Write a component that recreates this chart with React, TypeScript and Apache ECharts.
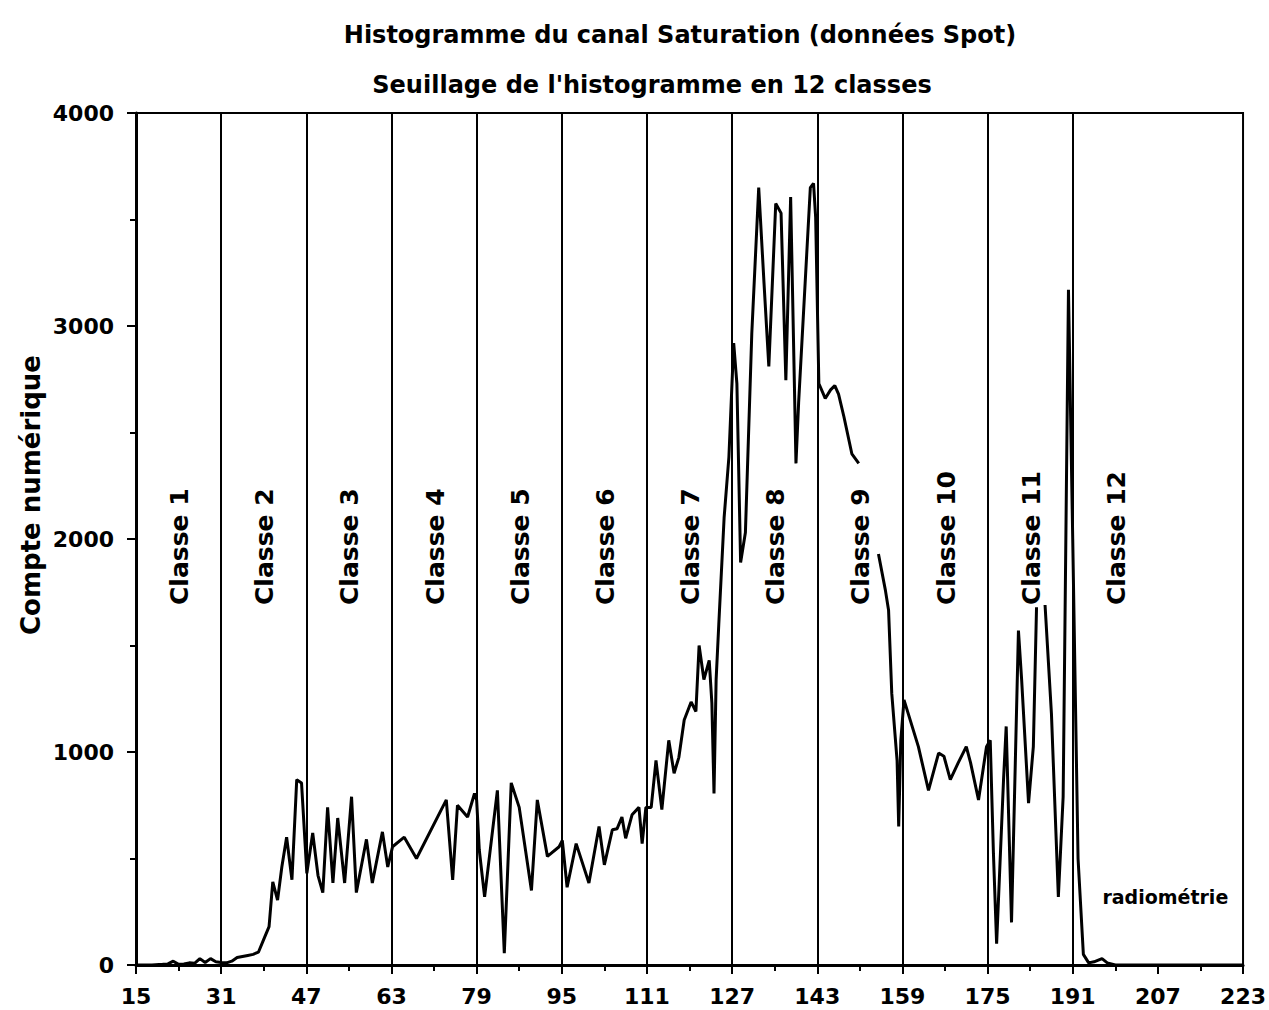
import React, { useEffect, useRef } from "react";
import * as echarts from "echarts";

const titleText = "Histogramme du canal Saturation (données Spot)";
const subtitleText = "Seuillage de l'histogramme en 12 classes";
const yAxisName = "Compte numérique";
const xAxisNote = "radiométrie";

// radiometric level (x) and count (y); null = pen gap
const radiometrie = [
  15, 18, 20, 21, 22, 23, 24, 25, 26, 27, 28, 29, 30, 31, 32, 33, 34, 35, 36, 37, 38, 39, 40,
  40.7, 41.6, 42.4, 43.3, 44.3, 45.2, 46.1, 47.1, 48.2, 49.2, 50.1, 51, 52, 52.9, 54.2, 55.5,
  56.4, 58.3, 59.4, 61.3, 62.3, 63.2, 65.4, 67.7, 73.3, 74.5, 75.4, 77.3, 78.6, 79, 79.5, 80.5,
  82.9, 84.2, 85.5, 87, 89.3, 90.4, 92.3, 94.5, 95.1, 96, 97.7, 100.1, 102, 103, 104.5, 105.4,
  106.3, 107, 108.2, 109.5, 110.1, 110.8, 111.8, 112.7, 113.8, 115.1, 116.1, 117, 118, 119.3,
  120.2, 120.8, 121.7, 122.7, 123.2, 123.6, 124, 124.5, 125.5, 126.4, 127.3, 127.9, 128.6,
  129.5, 130.7, 132, 133, 133.9, 135.2, 136.2, 137.1, 138, 139, 139.5, 141.7, 142.3, 142.7,
  143.3, 144.5, 145.5, 146.3, 147, 148, 149.5, 150.8, 152.5, 154.5, 155.8, 156.4, 157, 158, 158.3,
  158.7, 159.3, 162, 163.9, 165.8, 166.8, 168, 169.5, 171, 171.8, 173.3, 174.8, 175.5, 176.1,
  176.7, 178, 178.5, 179.5, 180.8, 181.4, 182.7, 183.6, 184.2, 185, 185.8, 187, 188.3, 189.2,
  190.2, 191, 192, 193, 194, 195, 196.5, 197.5, 199, 223,
];
const compte = [
  0, 0, 3, 5, 18, 3, 5, 10, 8, 30, 12, 30, 15, 12, 10, 18, 35, 40, 45, 50, 60, 120, 180,
  390, 305, 460, 600, 400, 870, 855, 430, 620, 420, 340, 740, 385, 690, 385, 790,
  340, 590, 385, 625, 460, 555, 600, 500, 775, 400, 750, 695, 805, 775, 540, 320,
  820, 55, 855, 740, 350, 775, 510, 555, 585, 365, 570, 385, 650, 470, 635, 640,
  695, 595, 705, 740, 570, 740, 740, 960, 730, 1055, 900, 975, 1150, 1235,
  1190, 1500, 1340, 1430, 1230, 805, 1340, 1600, 2100, 2385, 2920, 2730, 1890,
  2030, 2965, 3650, 3200, 2810, 3575, 3530, 2745, 3605, 2355, 2640, 3650, 3670, 3510,
  2730, 2660, 2700, 2720, 2680, 2575, 2400, 2355, null, 1930, 1760, 1665, 1275, 960, 650,
  1055, 1245, 1025, 820, 995, 980, 870, 950, 1025, 950, 775, 1025, 1055, 525,
  100, 870, 1120, 200, 1570, 1340, 760, 1025, 1680, null, 1690, 1180, 320, 790,
  3170, 2000, 500, 50, 10, 15, 30, 10, 0, 0,
];

const classBounds = [31, 47, 63, 79, 95, 111, 127, 143, 159, 175, 191];
const classNames = [
  "Classe 1", "Classe 2", "Classe 3", "Classe 4", "Classe 5", "Classe 6",
  "Classe 7", "Classe 8", "Classe 9", "Classe 10", "Classe 11", "Classe 12",
];
const classCenters = [23.2, 39.2, 55.2, 71.2, 87.2, 103.2, 119.2, 135.2, 151.2, 167.2, 183.2, 199.2];
const classLabelBase = 1690;
const notePosition = [208.4, 320];

const xTicks = { min: 15, max: 223, interval: 16 };
const yTicks = { min: 0, max: 4000, interval: 1000 };

const FONT = "'DejaVu Sans', sans-serif";

export default function App() {
  const ref = useRef<HTMLDivElement>(null);
  useEffect(() => {
    if (!ref.current) return;
    const chart = echarts.init(ref.current, null, { renderer: "svg" });
    const lineData = radiometrie.map((x, i) => [x, compte[i] === null ? "-" : compte[i]]);
    const textLabel = (size: number, rotate: number, align: string) => ({
      show: true,
      formatter: (p: any) => p.name,
      position: "inside",
      rotate,
      align,
      verticalAlign: "middle",
      color: "#000",
      opacity: 1,
      textBorderWidth: 0,
      fontFamily: FONT,
      fontWeight: "bold",
      fontSize: size,
    });
    chart.setOption({
      animation: false,
      backgroundColor: "#fff",
      title: [
        {
          text: titleText,
          left: 675,
          top: 18,
          textAlign: "center",
          textStyle: { fontFamily: FONT, fontWeight: "bold", fontSize: 24, color: "#000" },
        },
        {
          text: subtitleText,
          left: 647,
          top: 68,
          textAlign: "center",
          textStyle: { fontFamily: FONT, fontWeight: "bold", fontSize: 24, color: "#000" },
        },
      ],
      graphic: [
        {
          type: "text",
          x: 31,
          y: 495,
          rotation: Math.PI / 2,
          style: {
            text: yAxisName,
            fill: "#000",
            font: "bold 26px 'DejaVu Sans', sans-serif",
            align: "center",
            verticalAlign: "middle",
          },
        },
      ],
      grid: {
        left: 136,
        right: 24,
        top: 113,
        bottom: 45,
        show: true,
        borderColor: "#000",
        borderWidth: 2,
        backgroundColor: "transparent",
      },
      xAxis: {
        type: "value",
        min: xTicks.min,
        max: xTicks.max,
        interval: xTicks.interval,
        axisLine: { show: true, lineStyle: { color: "#000", width: 3 } },
        axisTick: { show: true, length: 9, lineStyle: { color: "#000", width: 2 } },
        minorTick: { show: true, splitNumber: 2, length: 6, lineStyle: { color: "#000", width: 2 } },
        splitLine: { show: false },
        axisLabel: { color: "#000", fontFamily: FONT, fontWeight: "bold", fontSize: 22, margin: 20 },
      },
      yAxis: {
        type: "value",
        min: yTicks.min,
        max: yTicks.max,
        interval: yTicks.interval,
        axisLine: { show: true, lineStyle: { color: "#000", width: 3 } },
        axisTick: { show: true, length: 9, lineStyle: { color: "#000", width: 2 } },
        minorTick: { show: true, splitNumber: 2, length: 6, lineStyle: { color: "#000", width: 2 } },
        splitLine: { show: false },
        axisLabel: {
          color: "#000",
          fontFamily: FONT,
          fontWeight: "bold",
          fontSize: 22,
          margin: 22,
          formatter: (v: number) => String(v),
        },
      },
      series: [
        {
          type: "line",
          data: lineData,
          symbol: "none",
          connectNulls: false,
          lineStyle: { color: "#000", width: 3 },
          markLine: {
            silent: true,
            symbol: "none",
            label: { show: false },
            lineStyle: { color: "#000", width: 2, type: "solid" },
            data: classBounds.map((x) => ({ xAxis: x })),
          },
        },
        {
          type: "scatter",
          symbolSize: 0,
          silent: true,
          itemStyle: { opacity: 1, color: "#000" },
          data: classCenters.map((x, i) => ({ value: [x, classLabelBase], name: classNames[i] })),
          label: textLabel(25, 90, "left"),
        },
        {
          type: "scatter",
          symbolSize: 0,
          silent: true,
          itemStyle: { opacity: 1, color: "#000" },
          data: [{ value: notePosition, name: xAxisNote }],
          label: textLabel(19, 0, "center"),
        },
      ],
    });
    return () => chart.dispose();
  }, []);
  return (
    <div
      ref={ref}
      style={{ position: "fixed", left: 0, top: 0, width: 1269, height: 1010, background: "#fff" }}
    />
  );
}
